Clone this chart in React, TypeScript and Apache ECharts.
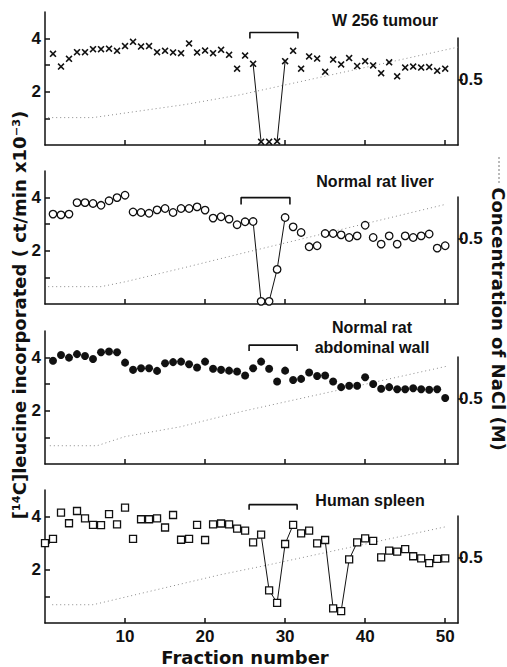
import React, { useEffect, useRef } from "react";
import * as echarts from "echarts";

// ---------- data ----------
const fractions = [
  1, 2, 3, 4, 5, 6, 7, 8, 9, 10, 11, 12, 13, 14, 15, 16, 17, 18, 19, 20, 21, 22, 23, 24, 25,
  26, 27, 28, 29, 30, 31, 32, 33, 34, 35, 36, 37, 38, 39, 40, 41, 42, 43, 44, 45, 46, 47, 48,
  49, 50,
];
const spleenFractions = [0, ...fractions];

const tumourValues = [
  3.43, 2.95, 3.24, 3.49, 3.49, 3.6, 3.6, 3.62, 3.54, 3.72,
  3.88, 3.7, 3.72, 3.49, 3.54, 3.48, 3.45, 3.82, 3.48, 3.55,
  3.45, 3.58, 3.39, 2.87, 3.36, 3.05, 0.12, 0.12, 0.14, 3.15,
  3.54, 2.87, 3.33, 3.25, 2.75, 3.21, 3.03, 3.27, 2.97, 3.15,
  2.99, 2.7, 3.11, 2.58, 2.91, 2.95, 2.91, 2.93, 2.79, 2.87,
];
const liverValues = [
  3.38, 3.35, 3.38, 3.81, 3.81, 3.78, 3.71, 3.88, 4.0, 4.09,
  3.46, 3.44, 3.41, 3.54, 3.59, 3.44, 3.59, 3.59, 3.65, 3.53,
  3.23, 3.28, 3.19, 2.98, 3.09, 3.1, 0.1, 0.1, 1.3, 3.25,
  2.9, 2.69, 2.15, 2.19, 2.65, 2.65, 2.6, 2.5, 2.56, 2.96,
  2.5, 2.25, 2.56, 2.25, 2.56, 2.5, 2.56, 2.63, 2.1, 2.19,
];
const wallValues = [
  3.88, 4.1, 4.0, 4.13, 4.06, 3.95, 4.2, 4.23, 4.2, 3.81,
  3.54, 3.6, 3.6, 3.5, 3.79, 3.83, 3.85, 3.75, 3.63, 3.85,
  3.58, 3.54, 3.51, 3.48, 3.33, 3.6, 3.85, 3.58, 3.1, 3.51,
  3.16, 3.2, 3.44, 3.31, 3.33, 3.1, 2.89, 2.94, 2.94, 3.26,
  3.01, 2.83, 2.89, 2.81, 2.81, 2.85, 2.81, 2.79, 2.81, 2.48,
];
const spleenValues = [
  3.0,
  3.16, 4.15, 3.75, 4.21, 3.93, 3.69, 3.68, 4.09, 3.71, 4.34,
  3.16, 3.9, 3.9, 3.93, 3.59, 4.06, 3.13, 3.16, 3.69, 3.12,
  3.71, 3.74, 3.71, 3.55, 3.47, 3.03, 3.32, 1.23, 0.76, 2.97,
  3.69, 3.37, 3.47, 2.99, 3.12, 0.55, 0.45, 2.39, 3.03, 3.18,
  3.09, 2.47, 2.72, 2.68, 2.78, 2.51, 2.43, 2.25, 2.41, 2.43,
];

// fractions joined by a thin line
const tumourLinks = [[26, 27], [29, 30]];
const liverLinks = [[26, 27], [28, 29, 30]];
const wallLinks: number[][] = [];
const spleenLinks = [[27, 28, 29, 30, 31], [35, 36, 37, 38, 39]];

// NaCl gradient (fraction, M)
const tumourNaCl = [[0.4, 0.21], [6, 0.21], [10, 0.245], [17.5, 0.31], [24.4, 0.385], [51.6, 0.75]];
const liverNaCl = [[0.4, 0.133], [7, 0.133], [10, 0.17], [17.5, 0.28], [24.4, 0.385], [49.8, 0.76]];
const wallNaCl = [[0.6, 0.14], [6.5, 0.14], [10, 0.21], [16.9, 0.285], [24.4, 0.4], [50.25, 0.75]];
const spleenNaCl = [[0.9, 0.14], [6, 0.14], [21.9, 0.37], [27.5, 0.44], [50.25, 0.74]];

// pooled-fraction brackets
const bracketStarts = [25.6, 24.5, 25.5, 25.5];
const bracketEnds = [31.6, 30.6, 31.5, 31.5];
const bracketTops = [4.23, 4.0, 4.47, 4.45];
const bracketFeet = [4.0, 3.74, 4.25, 4.26];

// ticks
const xTicks = [10, 20, 30, 40, 50];
const yTicks = [1, 2, 3, 4];
const yLabels = [2, 4];
const rightTicks = [0.5];

const panelTitles = [["W 256 tumour"], ["Normal rat liver"], ["Normal rat", "abdominal wall"], ["Human spleen"]];

// ---------- layout ----------
const W = 507;
const H = 667;
const FONT = "'Liberation Sans', Arial, sans-serif";
const WIDE = "'DejaVu Sans', 'Liberation Sans', sans-serif";
const baselines = [145, 304, 464, 623];
const titlePos = [[385, 20], [375, 181], [372, 327], [370, 500]];

const crossPath =
  "path://M0,1.6L1.6,0L5,3.4L8.4,0L10,1.6L6.6,5L10,8.4L8.4,10L5,6.6L1.6,10L0,8.4L3.4,5Z";

const panels = [
  { xs: fractions, vals: tumourValues, links: tumourLinks, nacl: tumourNaCl, symbol: crossPath, size: 7, fill: "#111", border: 0 },
  { xs: fractions, vals: liverValues, links: liverLinks, nacl: liverNaCl, symbol: "circle", size: 7.5, fill: "#fff", border: 1.3 },
  { xs: fractions, vals: wallValues, links: wallLinks, nacl: wallNaCl, symbol: "circle", size: 8, fill: "#111", border: 0 },
  { xs: spleenFractions, vals: spleenValues, links: spleenLinks, nacl: spleenNaCl, symbol: "rect", size: 7, fill: "#fff", border: 1.3 },
];

function buildOption() {
  const grid: any[] = [];
  const xAxis: any[] = [];
  const yAxis: any[] = [];
  const series: any[] = [];
  const graphic: any[] = [];
  const axisLine = { show: true, onZero: false, lineStyle: { color: "#111", width: 1.5 } };
  const labelStyle = { color: "#111", fontFamily: FONT, fontWeight: "bold" };

  panels.forEach((p, i) => {
    const base = baselines[i];
    grid[i] = { left: 45, right: 49, top: base - 133, bottom: H - base, containLabel: false };
    grid[4 + i] = { left: 45, right: 49, top: base - 107, bottom: H - base, containLabel: false };

    xAxis[i] = {
      gridIndex: i, type: "value", min: 0, max: 51.6,
      axisLine,
      axisTick: { show: true, inside: true, length: 5, customValues: xTicks, lineStyle: { color: "#111", width: 1.5 } },
      axisLabel: { show: i === 3, customValues: xTicks, margin: 5, fontSize: 17, ...labelStyle },
      splitLine: { show: false },
    };
    xAxis[4 + i] = { gridIndex: 4 + i, type: "value", min: 0, max: 51.6, show: false };

    yAxis[i] = {
      gridIndex: i, type: "value", min: 0, max: 5,
      axisLine,
      axisTick: { show: true, inside: true, length: 5, customValues: yTicks, lineStyle: { color: "#111", width: 1.5 } },
      axisLabel: { show: true, customValues: yLabels, margin: 4, fontSize: 17, ...labelStyle },
      splitLine: { show: false },
    };
    yAxis[4 + i] = {
      gridIndex: 4 + i, type: "value", position: "right", min: 0, max: 0.82,
      axisLine,
      axisTick: { show: true, inside: false, length: 5, customValues: rightTicks, lineStyle: { color: "#111", width: 1.5 } },
      axisLabel: { show: true, customValues: rightTicks, margin: 1, fontSize: 17, formatter: (v: number) => v.toFixed(1), ...labelStyle },
      splitLine: { show: false },
    };

    // NaCl gradient
    series.push({
      type: "line", xAxisIndex: 4 + i, yAxisIndex: 4 + i, data: p.nacl, symbol: "none",
      lineStyle: { color: "#8a8a8a", width: 1, type: [1, 3] }, z: 1, silent: true,
    });
    // bracket
    series.push({
      type: "line", xAxisIndex: i, yAxisIndex: i, symbol: "none",
      data: [
        [bracketStarts[i], bracketFeet[i]],
        [bracketStarts[i], bracketTops[i]],
        [bracketEnds[i], bracketTops[i]],
        [bracketEnds[i], bracketFeet[i]],
      ],
      lineStyle: { color: "#111", width: 1.6 }, z: 2, silent: true,
    });
    // connectors
    p.links.forEach((grp) => {
      series.push({
        type: "line", xAxisIndex: i, yAxisIndex: i, symbol: "none",
        data: grp.map((f) => [f, p.vals[p.xs.indexOf(f)]]),
        lineStyle: { color: "#111", width: 1 }, z: 3, silent: true,
      });
    });
    // markers
    series.push({
      type: "scatter", xAxisIndex: i, yAxisIndex: i,
      data: p.xs.map((f, k) => [f, p.vals[k]]),
      symbol: p.symbol, symbolSize: p.size,
      itemStyle: { color: p.fill, borderColor: "#111", borderWidth: p.border, opacity: 1 },
      z: 4, silent: true,
    });

    // titles
    const lines = panelTitles[i];
    lines.forEach((t, k) => {
      graphic.push({
        type: "text", x: titlePos[i][0], y: titlePos[i][1] + k * 20,
        style: { text: t, fill: "#111", font: `bold 16px ${FONT}`, textAlign: "center", textVerticalAlign: "middle" },
      });
    });
  });

  graphic.push({
    type: "text", x: 245, y: 657,
    style: { text: "Fraction number", fill: "#111", font: `bold 18px ${WIDE}`, textAlign: "center", textVerticalAlign: "middle" },
  });
  graphic.push({
    type: "text", x: 19, y: 315, rotation: Math.PI / 2,
    style: { text: "[¹⁴C]leucine incorporated ( ct/min x10⁻³)", fill: "#111", font: `bold 18px ${WIDE}`, textAlign: "center", textVerticalAlign: "middle" },
  });
  graphic.push({
    type: "text", x: 498, y: 319, rotation: -Math.PI / 2,
    style: { text: "Concentration of NaCl (M)", fill: "#111", font: `bold 18px ${WIDE}`, textAlign: "center", textVerticalAlign: "middle" },
  });
  graphic.push({
    type: "line", shape: { x1: 499, y1: 157, x2: 499, y2: 183 },
    style: { stroke: "#777", lineWidth: 1, lineDash: [2, 2] },
  });

  return { animation: false, backgroundColor: "#fff", grid, xAxis, yAxis, series, graphic };
}

export default function App() {
  const ref = useRef<HTMLDivElement>(null);
  useEffect(() => {
    if (!ref.current) return;
    const chart = echarts.init(ref.current, undefined, { renderer: "svg", width: W, height: H });
    chart.setOption(buildOption() as any);
    return () => chart.dispose();
  }, []);
  return <div ref={ref} style={{ position: "absolute", left: 0, top: 0, width: W, height: H, background: "#fff" }} />;
}
